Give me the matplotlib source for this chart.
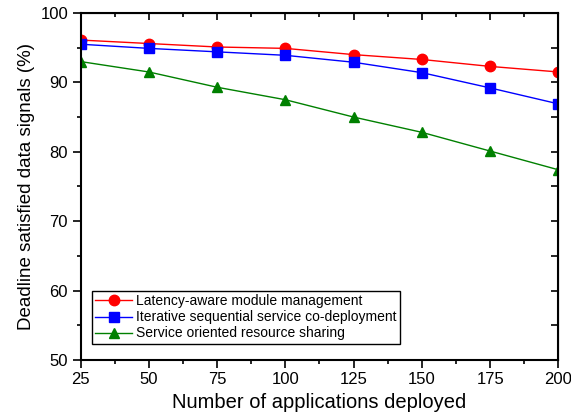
import numpy as np
import matplotlib.pyplot as plt
from matplotlib.ticker import MultipleLocator

plt.rcParams['font.family'] = ['Liberation Sans', 'DejaVu Sans']

apps = [25, 50, 75, 100, 125, 150, 175, 200]
latency_aware = [96.1, 95.6, 95.1, 94.9, 94.0, 93.3, 92.3, 91.5]
iterative_seq = [95.5, 94.9, 94.4, 93.9, 92.9, 91.4, 89.2, 86.9]
service_oriented = [93.0, 91.5, 89.3, 87.5, 85.0, 82.8, 80.1, 77.4]

fig = plt.figure(figsize=(5.71, 4.19), dpi=100)
ax = fig.add_axes([0.141, 0.141, 0.837, 0.828])

ax.plot(apps, latency_aware, '-', color='#ff0000', lw=1, marker='o', ms=7.5,
        label='Latency-aware module management')
ax.plot(apps, iterative_seq, '-', color='#0000ff', lw=1, marker='s', ms=6.5,
        label='Iterative sequential service co-deployment')
ax.plot(apps, service_oriented, '-', color='#008000', lw=1, marker='^', ms=7.5,
        label='Service oriented resource sharing')

ax.set_xlim(25, 200)
ax.set_ylim(50, 100)
ax.xaxis.set_major_locator(MultipleLocator(25))
ax.xaxis.set_minor_locator(MultipleLocator(12.5))
ax.yaxis.set_major_locator(MultipleLocator(10))
ax.yaxis.set_minor_locator(MultipleLocator(5))

for s in ax.spines.values():
    s.set_linewidth(1.5)

ax.tick_params(which='both', direction='out', width=1.2, labelsize=12, pad=3)
ax.tick_params(which='major', length=6)
ax.tick_params(which='minor', length=3)

# mirrored inward ticks on top and right
axt = ax.secondary_xaxis('top')
axt.xaxis.set_major_locator(MultipleLocator(25))
axt.xaxis.set_minor_locator(MultipleLocator(12.5))
axt.tick_params(which='both', direction='in', width=1.2, labeltop=False)
axt.tick_params(which='major', length=5)
axt.tick_params(which='minor', length=3)
axr = ax.secondary_yaxis('right')
axr.yaxis.set_major_locator(MultipleLocator(10))
axr.yaxis.set_minor_locator(MultipleLocator(5))
axr.tick_params(which='both', direction='in', width=1.2, labelright=False)
axr.tick_params(which='major', length=5)
axr.tick_params(which='minor', length=5)

ax.set_xlabel('Number of applications deployed', fontsize=14.5, labelpad=4)
ax.set_ylabel('Deadline satisfied data signals (%)', fontsize=13.5, labelpad=4)

leg = ax.legend(loc='lower left', bbox_to_anchor=(0.024, 0.046), borderaxespad=0,
                fontsize=10, fancybox=False, edgecolor='black', framealpha=1,
                borderpad=0.25, labelspacing=0.15, handlelength=2.6,
                handletextpad=0.35)
leg.get_frame().set_linewidth(1)

plt.savefig('out.png', dpi=100)
